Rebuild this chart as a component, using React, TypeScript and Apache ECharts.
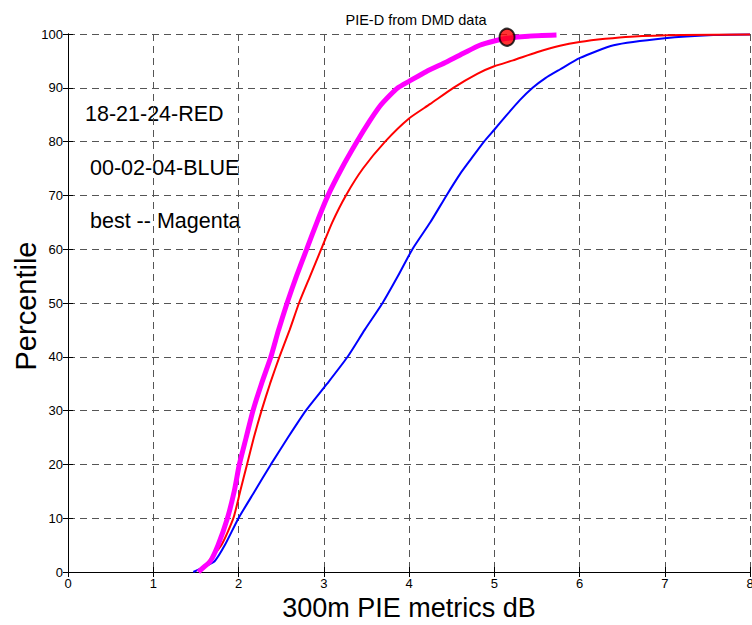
import React, { useEffect, useRef } from "react";
import * as echarts from "echarts";

const magenta: [number, number][] = [
  [1.53, 0], [1.6, 1], [1.67, 2], [1.76, 5], [1.87, 10], [1.95, 15], [2.01, 20],
  [2.09, 25], [2.17, 30], [2.27, 35], [2.38, 40], [2.47, 45], [2.57, 50], [2.68, 55],
  [2.8, 60], [2.92, 65], [3.05, 70], [3.21, 75], [3.39, 80], [3.53, 83.6], [3.66, 86.6],
  [3.77, 88.5], [3.87, 90], [4.0, 91.2], [4.2, 93.0], [4.44, 94.8], [4.65, 96.5],
  [4.83, 97.9], [5.0, 98.7], [5.15, 99.2], [5.4, 99.6], [5.73, 99.8]
];

const red: [number, number][] = [
  [1.55, 0], [1.65, 2], [1.8, 5], [1.94, 10], [2.02, 15], [2.1, 20], [2.18, 25],
  [2.27, 30], [2.37, 35], [2.48, 40], [2.6, 45], [2.71, 50], [2.84, 55], [2.97, 60],
  [3.1, 65], [3.26, 70], [3.46, 75], [3.72, 80], [4.0, 84.3],
  [4.25, 87.0], [4.52, 90], [4.8, 92.6], [5.0, 94.0], [5.22, 95.1], [5.5, 96.6],
  [5.77, 97.8], [6.0, 98.5], [6.3, 99.1], [6.6, 99.5], [7.2, 99.8], [8, 99.9]
];

const blue: [number, number][] = [
  [1.47, 0], [1.6, 1], [1.72, 2], [1.84, 5], [2.0, 10], [2.19, 15], [2.38, 20],
  [2.58, 25], [2.79, 30], [3.04, 35], [3.28, 40], [3.48, 45], [3.69, 50], [3.87, 55],
  [4.04, 60], [4.25, 65], [4.44, 70], [4.6, 74], [4.72, 76.6], [4.88, 80], [5.0, 82.2],
  [5.15, 85], [5.3, 87.7], [5.45, 90], [5.6, 91.8], [5.77, 93.4], [6.0, 95.5],
  [6.4, 97.9], [7.0, 99.2], [7.57, 99.8], [8, 99.9]
];

const bestPoint: [number, number][] = [[5.15, 99.4]];

const xTicks = [0, 1, 2, 3, 4, 5, 6, 7, 8];
const yTicks = [0, 10, 20, 30, 40, 50, 60, 70, 80, 90, 100];

const labels = ["18-21-24-RED", "00-02-04-BLUE", "best -- Magenta"];
const yName = "Percentile";

const FONT = "Liberation Sans, Arial, Helvetica, sans-serif";

export default function App() {
  const ref = useRef<HTMLDivElement>(null);
  useEffect(() => {
    if (!ref.current) return;
    const chart = echarts.init(ref.current, null, { renderer: "svg" });
    const grid = "#555555";
    const dash = [7, 5];
    chart.setOption({
      animation: false,
      backgroundColor: "#ffffff",
      title: {
        text: "PIE-D from DMD data",
        left: 411,
        top: 7,
        textAlign: "center",
        textStyle: { fontFamily: FONT, fontSize: 14.5, fontWeight: "normal", color: "#000" },
      },
      grid: { left: 68, right: 2, top: 34, bottom: 53, show: false, outerBoundsMode: "none", containLabel: false },
      xAxis: [
        {
          type: "value",
          min: xTicks[0],
          max: xTicks[xTicks.length - 1],
          interval: 1,
          name: "300m PIE metrics dB",
          nameLocation: "middle",
          nameGap: 21,
          nameTextStyle: { fontFamily: FONT, fontSize: 27, color: "#000" },
          axisLine: { show: true, lineStyle: { color: "#000", width: 1 } },
          axisTick: { show: true, inside: true, length: 5, lineStyle: { color: "#000" } },
          axisLabel: { fontFamily: FONT, fontSize: 13, color: "#000", margin: 5 },
          splitLine: { show: true, lineStyle: { color: grid, type: dash, width: 1 } },
        },
        {
          type: "value",
          position: "top",
          min: 0,
          max: 8,
          interval: 1,
          axisLine: { show: true, lineStyle: { color: "#000", width: 1 } },
          axisTick: { show: true, inside: true, length: 5, lineStyle: { color: "#000" } },
          axisLabel: { show: false },
          splitLine: { show: false },
        },
      ],
      yAxis: [
        {
          type: "value",
          min: yTicks[0],
          max: yTicks[yTicks.length - 1],
          interval: 10,
          axisLine: { show: true, lineStyle: { color: "#000", width: 1 } },
          axisTick: { show: true, inside: true, length: 5, lineStyle: { color: "#000" } },
          axisLabel: { fontFamily: FONT, fontSize: 13, color: "#000", margin: 5 },
          splitLine: { show: true, lineStyle: { color: grid, type: dash, width: 1 } },
        },
        {
          type: "value",
          position: "right",
          min: 0,
          max: 100,
          interval: 10,
          axisLine: { show: true, lineStyle: { color: "#000", width: 1 } },
          axisTick: { show: true, inside: true, length: 5, lineStyle: { color: "#000" } },
          axisLabel: { show: false },
          splitLine: { show: false },
        },
      ],
      series: [
        {
          type: "line",
          data: blue,
          showSymbol: false,
          symbol: "none",
          smooth: 0.2,
          lineStyle: { color: "#0000ff", width: 2 },
          z: 2,
        },
        {
          type: "line",
          data: red,
          showSymbol: false,
          symbol: "none",
          smooth: 0.2,
          lineStyle: { color: "#ff0000", width: 2 },
          z: 3,
        },
        {
          type: "line",
          data: magenta,
          showSymbol: false,
          symbol: "none",
          smooth: 0.2,
          lineStyle: { color: "#ff00ff", width: 5 },
          z: 4,
        },
        {
          type: "scatter",
          data: bestPoint,
          symbol: "circle",
          symbolSize: [15, 17],
          itemStyle: { color: "#ff0000", borderColor: "#000", borderWidth: 2 },
          z: 5,
          clip: false,
        },
      ],
      graphic: [
        {
          type: "text",
          x: 26,
          y: 306,
          rotation: Math.PI / 2,
          style: { text: yName, fontFamily: FONT, fontSize: 29, fill: "#000", align: "center", verticalAlign: "middle" },
        },
        { type: "text", x: 85, y: 114, style: { text: labels[0], fontFamily: FONT, fontSize: 21.5, fill: "#000", verticalAlign: "middle" } },
        { type: "text", x: 90, y: 168, style: { text: labels[1], fontFamily: FONT, fontSize: 21.5, fill: "#000", verticalAlign: "middle" } },
        { type: "text", x: 90, y: 221, style: { text: labels[2], fontFamily: FONT, fontSize: 21.5, fill: "#000", verticalAlign: "middle" } },
      ],
    });
    return () => chart.dispose();
  }, []);
  return (
    <div
      ref={ref}
      style={{ position: "fixed", left: 0, top: 0, width: 752, height: 625, background: "#fff" }}
    />
  );
}
